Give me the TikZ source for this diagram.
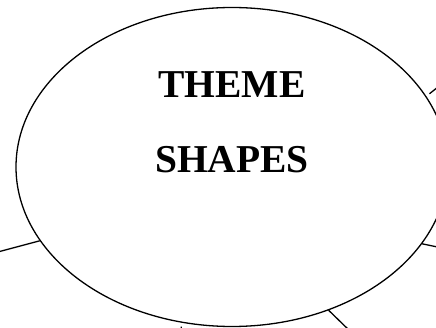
\documentclass[tikz,border=0pt]{standalone}
\usepackage{fontspec}
\setmainfont{Liberation Serif}
\usetikzlibrary{positioning, shapes.geometric}

\begin{document}
\begin{tikzpicture}[ x=1pt, y=-1pt, bubble/.style={ ellipse, draw, line width=1.3pt, inner sep=0pt, minimum width=432pt, minimum height=319pt }, title/.style={ font=\fontsize{39.5}{47}\selectfont\bfseries, inner sep=0pt, anchor=base }, link/.style={ line width=1.3pt } ]
\useasboundingbox (0,0) rectangle (436,328);

% --- Ellisse centrale ---
\node[bubble] (theme) at (232,167) {};

% --- Titolo ---
\node[title] (themetext) at (232,98) {THEME};
\node[title, below=0pt of themetext.base, anchor=base, yshift=-75pt] (shapestext) {SHAPES};

% --- Estremi liberi ---
\coordinate (leftend) at (-6,253);
\coordinate (uprightend) at (448,79);
\coordinate (lowrightend) at (447,249);
\coordinate (botrightend) at (352,333);
\coordinate (botend) at (181,336);

% --- Collegamenti ---
\draw[link] (theme.201.6) -- (leftend); \draw[link, shorten <=4pt] (theme.20.2) -- (uprightend); \draw[link] (theme.338.1) -- (lowrightend); \draw[link] (theme.304.1) -- (botrightend); \draw[link, shorten <=4pt] (theme.252.6) -- (botend);
\end{tikzpicture}
\end{document}
